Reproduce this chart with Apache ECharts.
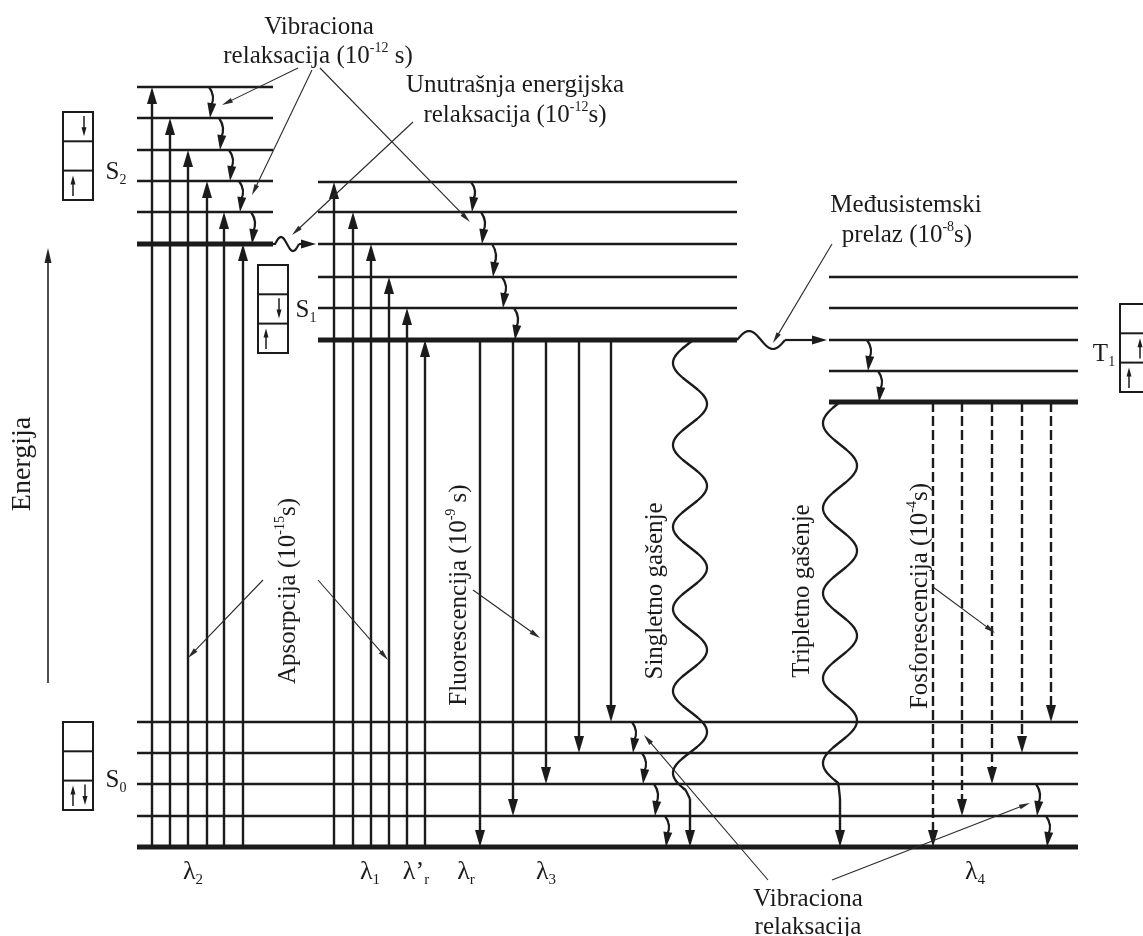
<!DOCTYPE html>
<html><head><meta charset="utf-8">
<script src="https://cdn.jsdelivr.net/npm/echarts@6/dist/echarts.min.js"></script>
<style>html,body{margin:0;padding:0;background:#fff}#c{width:1143px;height:936px}</style>
</head><body><div id="c"></div>
<script>
// ---------------- DATA (energy in arbitrary units, horizontal position in diagram units) ----------------
// vibrational levels, index 0 = lowest (v=0)
const S0_E = [89, 120, 152, 183, 214];
const S1_E = [596, 628, 659, 692, 724, 754];
const S2_E = [692, 724, 755, 786, 818, 849];
const T1_E = [534, 565, 596, 628, 659];
// horizontal extent of each manifold
const S0_X = [137, 1078];
const S1_X = [318, 737];
const S2_X = [137, 273];
const T1_X = [829, 1078];
// transitions (horizontal position of each arrow)
const absS2_X = [152, 170, 188, 207, 224, 243];   // S0(v0) -> S2 (v5 ... v0)
const absS1_X = [334, 353, 371, 389, 407, 425];   // S0(v0) -> S1 (v5 ... v0)
const fluor_X = [480, 513, 546, 579, 611];        // S1(v0) -> S0 (v0 ... v4)
const phos_X  = [933, 962, 992, 1022, 1051];      // T1(v0) -> S0 (v0 ... v4)
const vibS2_X = [210, 220, 230, 240, 252];        // S2 v5->v4 ... v1->v0
const vibS1_X = [472, 482, 493, 503, 515];        // S1 v5->v4 ... v1->v0
const vibT1_X = [868, 879];                       // T1 v2->v1, v1->v0
const vibS0a_X = [633, 643, 655, 666];            // S0 v4->v3 ... v1->v0
const vibS0b_X = [1037, 1047];                    // S0 v2->v1, v1->v0
const quenchS_X = 690, quenchT_X = 840;           // singlet / triplet quenching
const energyAxis = [48, 253, 688];                // x, E from, E to
// electron-spin boxes: left x, top E
const boxes = [[63, 824], [258, 671], [63, 214], [1120, 632]];
// electrons: x, box index, cell (0 = top), direction (1 up, -1 down)
const electrons = [[84,0,0,-1],[73,0,2,1],[279,1,1,-1],[266,1,2,1],[73,2,2,1],[85,2,2,-1],[1140,3,1,1],[1129,3,2,1]];
// annotation pointers: x0, E0, x1, E1
const pointers = [
  [298,868,222,831],[312,866,252,741],[320,868,470,714],
  [413,814,292,701],[832,692,773,593],
  [263,356,188,278],[318,356,388,276],[473,346,540,298],[933,349,995,303],
  [768,56,644,201],[832,56,1030,133]
];
// text
const noteTexts = ['Vibraciona','relaksacija (10{u|-12} s)','Unutrašnja energijska','relaksacija (10{u|-12}s)',
                   'Međusistemski','prelaz (10{u|-8}s)','Vibraciona','relaksacija'];
const notePos = [[319,909],[318,880],[515,851],[515,821],[906,731],[907,701],[808,37],[808,9]];
const processTexts = ['Apsorpcija (10{u|-15}s)','Fluorescencija (10{u|-9} s)','Singletno gašenje','Tripletno gašenje','Fosforescencija (10{u|-4}s)'];
const processPos = [[288,345],[459,341],[655,345],[802,345],[920,340]];
const stateTexts = ['S{b|2}','S{b|1}','S{b|0}','T{b|1}'];
const statePos = [[116,764],[306,626],[116,156],[1104,582]];
const lambdaTexts = ['λ{b|2}','λ{b|1}','λ’{b|r}','λ{b|r}','λ{b|3}','λ{b|4}'];
const lambdaPos = [[193,64],[370,64],[416,64],[466,64],[546,64],[975,64]];

// ---------------- build series data ----------------
const levelData = [];
S0_E.forEach((e,i)=>levelData.push([S0_X[0],S0_X[1],e,i===0?1:0]));
S1_E.forEach((e,i)=>levelData.push([S1_X[0],S1_X[1],e,i===0?1:0]));
S2_E.forEach((e,i)=>levelData.push([S2_X[0],S2_X[1],e,i===0?1:0]));
T1_E.forEach((e,i)=>levelData.push([T1_X[0],T1_X[1],e,i===0?1:0]));

const arrowData = [];
absS2_X.forEach((x,i)=>arrowData.push([x,S0_E[0],S2_E[5-i],0]));
absS1_X.forEach((x,i)=>arrowData.push([x,S0_E[0],S1_E[5-i],0]));
fluor_X.forEach((x,i)=>arrowData.push([x,S1_E[0],S0_E[i],0]));
phos_X.forEach((x,i)=>arrowData.push([x,T1_E[0],S0_E[i],1]));

const vibData = [];
vibS2_X.forEach((x,i)=>vibData.push([x,S2_E[5-i],S2_E[4-i]]));
vibS1_X.forEach((x,i)=>vibData.push([x,S1_E[5-i],S1_E[4-i]]));
vibT1_X.forEach((x,i)=>vibData.push([x,T1_E[2-i],T1_E[1-i]]));
vibS0a_X.forEach((x,i)=>vibData.push([x,S0_E[4-i],S0_E[3-i]]));
vibS0b_X.forEach((x,i)=>vibData.push([x,S0_E[2-i],S0_E[1-i]]));

const quenchData = [[quenchS_X,S1_E[0],S0_E[0],0],[quenchT_X,T1_E[0],S0_E[0],1]];
const crossData = [[S2_E[0],S2_X[1],S1_X[0],0],[S1_E[0],S1_X[1],T1_X[0],1]];

// ---------------- drawing helpers ----------------
const INK = '#1b1b1b';
const FONT = 'Liberation Serif';
function headEl(tip, u, len, w, color){
  const bx = tip[0]-u[0]*len, by = tip[1]-u[1]*len, nx = -u[1], ny = u[0];
  return {type:'polygon', shape:{points:[[tip[0],tip[1]],[bx+nx*w/2,by+ny*w/2],[bx-nx*w/2,by-ny*w/2]]}, style:{fill:color||INK}};
}
function arrowEls(p0, p1, o){
  const dx=p1[0]-p0[0], dy=p1[1]-p0[1], L=Math.hypot(dx,dy), u=[dx/L,dy/L];
  const e=[p1[0]-u[0]*o.len*0.7, p1[1]-u[1]*o.len*0.7];
  return [
    {type:'line', shape:{x1:p0[0],y1:p0[1],x2:e[0],y2:e[1]}, style:{stroke:o.color||INK, lineWidth:o.lw, lineDash:o.dash||null}},
    headEl(p1,u,o.len,o.w,o.color)
  ];
}
const waveStyle = [{A:17,P:82,d0:2.5,tail:57},{A:17,P:85,d0:0,tail:64}];
const crossStyle = [{A:7,P:24,lead:2},{A:9,P:48,lead:0}];
const boxW = 30, cellH = 29.3;

function richFor(size){
  return {
    u:{fontFamily:FONT,fontSize:Math.round(size*0.56),verticalAlign:'top',fill:INK},
    b:{fontFamily:FONT,fontSize:Math.round(size*0.58),verticalAlign:'bottom',fill:INK}
  };
}
function textEl(p, txt, size, rot){
  return {type:'text', x:p[0], y:p[1], rotation: rot?Math.PI/2:0,
    style:{text:txt, fontFamily:FONT, fontSize:size, lineHeight:size+5, fill:INK, align:'center', verticalAlign:'middle', rich:richFor(size)}};
}

const series = [
  {type:'custom', name:'levels', data:levelData, renderItem:(p,api)=>{
    const a=api.coord([api.value(0),api.value(2)]), b=api.coord([api.value(1),api.value(2)]);
    return {type:'line', shape:{x1:a[0],y1:a[1],x2:b[0],y2:b[1]}, style:{stroke:INK, lineWidth:api.value(3)===1?5.2:2.6}};
  }},
  {type:'custom', name:'transitions', data:arrowData, renderItem:(p,api)=>{
    const x=api.value(0), p0=api.coord([x,api.value(1)]), p1=api.coord([x,api.value(2)]);
    return {type:'group', children:arrowEls(p0,p1,{lw:2.4,len:17,w:10,dash:api.value(3)===1?[10,4]:null})};
  }},
  {type:'custom', name:'vibrational', data:vibData, renderItem:(p,api)=>{
    const x=api.value(0), a=api.coord([x,api.value(1)]), b=api.coord([x,api.value(2)]);
    const endY=b[1]-12;
    return {type:'group', children:[
      {type:'bezierCurve', shape:{x1:a[0]-1,y1:a[1],cpx1:a[0]+6,cpy1:(a[1]+endY)/2,x2:a[0]+1,y2:endY}, style:{stroke:INK,lineWidth:2.2,fill:null}},
      headEl([a[0],b[1]],[ -0.12, 0.993],15,9)
    ]};
  }},
  {type:'custom', name:'quenching', data:quenchData, renderItem:(p,api)=>{
    const x=api.value(0), t=api.coord([x,api.value(1)]), b=api.coord([x,api.value(2)]);
    const s=waveStyle[api.value(3)], pts=[];
    const yEnd=b[1]-s.tail;
    for(let y=t[1]+1;y<=yEnd;y+=1){const d=y-t[1]; pts.push([t[0]-s.A*Math.sin(2*Math.PI*(d-s.d0)/s.P), y]);}
    pts.push([t[0], b[1]-48]);
    return {type:'group', children:[
      {type:'polyline', shape:{points:pts, smooth:0.3}, style:{stroke:INK,lineWidth:2.3,fill:null}},
      ...arrowEls([t[0],b[1]-48],b,{lw:2.4,len:17,w:10})
    ]};
  }},
  {type:'custom', name:'crossing', data:crossData, renderItem:(p,api)=>{
    const E=api.value(0), a=api.coord([api.value(1),E]), b=api.coord([api.value(2),E]);
    const s=crossStyle[api.value(3)], pts=[[a[0],a[1]]];
    const x0=a[0]+s.lead;
    for(let d=0;d<=s.P;d+=1){pts.push([x0+d, a[1]-s.A*Math.sin(2*Math.PI*d/s.P)]);}
    const xe=x0+s.P;
    return {type:'group', children:[
      {type:'polyline', shape:{points:pts}, style:{stroke:INK,lineWidth:2.2,fill:null}},
      ...arrowEls([xe,a[1]],[b[0]-2,b[1]],{lw:2.2,len:15,w:9})
    ]};
  }},
  {type:'custom', name:'energy', data:[energyAxis], renderItem:(p,api)=>{
    const x=api.value(0), a=api.coord([x,api.value(1)]), b=api.coord([x,api.value(2)]);
    return {type:'group', children:arrowEls(a,b,{lw:1.6,len:15,w:7,color:'#222'})};
  }},
  {type:'custom', name:'pointers', data:pointers, renderItem:(p,api)=>{
    const a=api.coord([api.value(0),api.value(1)]), b=api.coord([api.value(2),api.value(3)]);
    return {type:'group', children:arrowEls(a,b,{lw:1.1,len:11,w:5,color:'#2a2a2a'})};
  }},
  {type:'custom', name:'boxes', data:boxes, renderItem:(p,api)=>{
    const a=api.coord([api.value(0),api.value(1)]);
    const ch=[{type:'rect', shape:{x:a[0],y:a[1],width:boxW,height:cellH*3}, style:{stroke:INK,lineWidth:2,fill:null}}];
    for(let k=1;k<3;k++) ch.push({type:'line', shape:{x1:a[0],y1:a[1]+cellH*k,x2:a[0]+boxW,y2:a[1]+cellH*k}, style:{stroke:INK,lineWidth:2}});
    return {type:'group', children:ch};
  }},
  {type:'custom', name:'electrons', data:electrons, renderItem:(p,api)=>{
    const bx=boxes[api.value(1)], top=api.coord([api.value(0),bx[1]]);
    const cTop=top[1]+cellH*api.value(2), up=api.value(3)===1;
    const y0=up?cTop+cellH-4:cTop+4, y1=up?cTop+5:cTop+cellH-5;
    return {type:'group', children:arrowEls([top[0],y0],[top[0],y1],{lw:1.5,len:9,w:5})};
  }},
  {type:'custom', name:'notes', data:noteTexts.map((t,i)=>[i]), renderItem:(p,api)=>{
    const i=api.value(0); return textEl(api.coord(notePos[i]), noteTexts[i], 25, false);
  }},
  {type:'custom', name:'processes', data:processTexts.map((t,i)=>[i]), renderItem:(p,api)=>{
    const i=api.value(0); return textEl(api.coord(processPos[i]), processTexts[i], 25, true);
  }},
  {type:'custom', name:'states', data:stateTexts.map((t,i)=>[i]), renderItem:(p,api)=>{
    const i=api.value(0); return textEl(api.coord(statePos[i]), stateTexts[i], 25, false);
  }},
  {type:'custom', name:'lambdas', data:lambdaTexts.map((t,i)=>[i]), renderItem:(p,api)=>{
    const i=api.value(0); return textEl(api.coord(lambdaPos[i]), lambdaTexts[i], 26, false);
  }},
  {type:'custom', name:'energyLabel', data:[[0]], renderItem:(p,api)=>{
    return textEl(api.coord([23,472]), 'Energija', 28, true);
  }}
];

const chart = echarts.init(document.getElementById('c'));
chart.setOption({
  animation:false,
  backgroundColor:'#ffffff',
  grid:{left:0,right:0,top:0,bottom:0},
  xAxis:{type:'value',min:0,max:1143,show:false},
  yAxis:{type:'value',min:0,max:936,show:false},
  series: series.map(s=>Object.assign({silent:true, clip:false}, s))
});
</script></body></html>
